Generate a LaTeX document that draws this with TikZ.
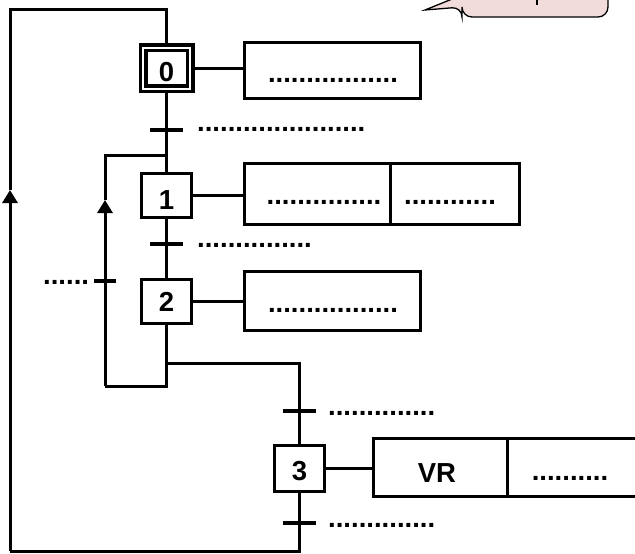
\documentclass[tikz,border=0pt]{standalone}
\usepackage{fontspec}
\usetikzlibrary{arrows.meta}
\newfontfamily\arialf{Liberation Sans}
\newcommand\grafnum{\arialf\bfseries\fontsize{27.5}{32}\selectfont}
\newcommand\grafdot{\arialf\bfseries\fontsize{27.5}{32}\selectfont}
\definecolor{callpink}{RGB}{242,220,219}
\begin{document}
\begin{tikzpicture}[x=1pt,y=-1pt,
  stepbox/.style={draw, line width=3pt, minimum width=50pt, minimum height=44pt, inner sep=0pt},
  initbox/.style={draw, double, double distance=2pt, line width=3.5pt, minimum width=47pt, minimum height=41pt, inner sep=0pt},
  actbox/.style={draw, line width=3pt, inner sep=0pt},
  lnk/.style={line width=3pt},
  flow/.style={line width=3pt, line join=miter},
  tbar/.style={fill=black, inner sep=0pt, minimum height=4.5pt, minimum width=33pt},
  lbl/.style={font=\grafdot, anchor=base west, inner sep=0pt},
  clbl/.style={font=\grafdot, anchor=base, inner sep=0pt},
  num/.style={font=\grafnum, anchor=base, inner sep=0pt},
  arr/.style={-{Triangle[length=13pt,width=15pt]}}
]
\useasboundingbox (0,0) rectangle (635,554);

% callout (cut off at the top)
\draw[line width=1.3pt, fill=callpink] (425,10) -- (462,-5) -- (462,-40) -- (608,-40)
   [rounded corners=10pt] -- (608,17) -- (462,17) -- (462,7) [sharp corners] -- cycle;
\draw[line width=2.5pt] (537,-3) -- (537,4.5);

% steps
\node[initbox] (s0) at (166.5,68) {};
\node[stepbox] (s1) at (166.5,195.5) {};
\node[stepbox] (s2) at (166.5,301) {};
\node[stepbox, minimum height=46pt] (s3) at (299.5,468.5) {};
\node[num] (n0) at (166.5,81) {0};
\node[num] (n1) at (166.5,209.5) {1};
\node[num] (n2) at (166.5,311.5) {2};
\node[num] (n3) at (299.5,480) {3};

% actions
\node[actbox, minimum width=176pt, minimum height=56pt] (a0) at (332.5,70.5) {};
\node[actbox, minimum width=145.5pt, minimum height=61pt] (a1a) at (317.25,194) {};
\node[actbox, minimum width=129.5pt, minimum height=61pt] (a1b) at (454.75,194) {};
\node[actbox, minimum width=176pt, minimum height=59pt] (a2) at (332.5,301) {};
\node[actbox, minimum width=133.5pt, minimum height=58pt] (a3a) at (440.25,467.5) {};
\node[actbox, minimum width=133pt, minimum height=58pt] (a3b) at (573.5,467.5) {};

\draw[lnk] (s0.east) -- (s0.east -| a0.west);
\draw[lnk] (s1.east) -- (s1.east -| a1a.west);
\draw[lnk] (s2.east) -- (s2.east -| a2.west);
\draw[lnk] (s3.east) -- (s3.east -| a3a.west);

\node[clbl] (x0) at (333,82.5) {.................};
\node[clbl] (x1a) at (324,204.5) {...............};
\node[clbl] (x1b) at (450,204.5) {............};
\node[clbl] (x2) at (333,312.5) {.................};
\node[num] (vr) at (437,482) {VR};
\node[clbl] (x3b) at (570,480.5) {..........};

% transitions
\node[tbar] (t0) at (166.5,130) {};
\node[tbar] (t1) at (166.5,244) {};
\node[tbar, minimum width=22pt] (tl) at (105,281) {};
\node[tbar] (t2) at (299.5,411) {};
\node[tbar] (t3) at (299.5,523) {};
\node[lbl] (r0) at (197,131.5) {......................};
\node[lbl] (r1) at (197,247.5) {...............};
\node[lbl] (rl) at (43,284.5) {......};
\node[lbl] (r2) at (328,415.5) {..............};
\node[lbl] (r3) at (328,527.5) {..............};

% junction points
\coordinate (tt) at (166.5,9.5);
\coordinate (ot) at (10,9.5);
\coordinate (oa) at (10,190);
\coordinate (ob) at (10,551);
\coordinate (j0) at (166.5,155);
\coordinate (jl) at (105,155);
\coordinate (ia) at (105,200);
\coordinate (bl) at (105,386);
\coordinate (b2) at (166.5,386);
\coordinate (j2) at (166.5,363);
\coordinate (rr) at (299.5,363);
\coordinate (b3) at (299.5,551);

% links
\draw[flow] (oa) -- (ot) -- (tt) -- (s0.north);
\draw[flow] (s0.south) -- (s1.north);
\draw[flow] (s1.south) -- (s2.north);
\draw[flow] (s2.south) -- (b2) -- (bl);
\draw[flow, arr] (bl) -- (ia);
\draw[flow] (ia) -- (jl) -- (j0);
\draw[flow] (j2) -- (rr) -- (s3.north);
\draw[flow] (s3.south) -- (b3) -- (ob);
\draw[flow, arr] (ob) -- (oa);
\end{tikzpicture}
\end{document}
